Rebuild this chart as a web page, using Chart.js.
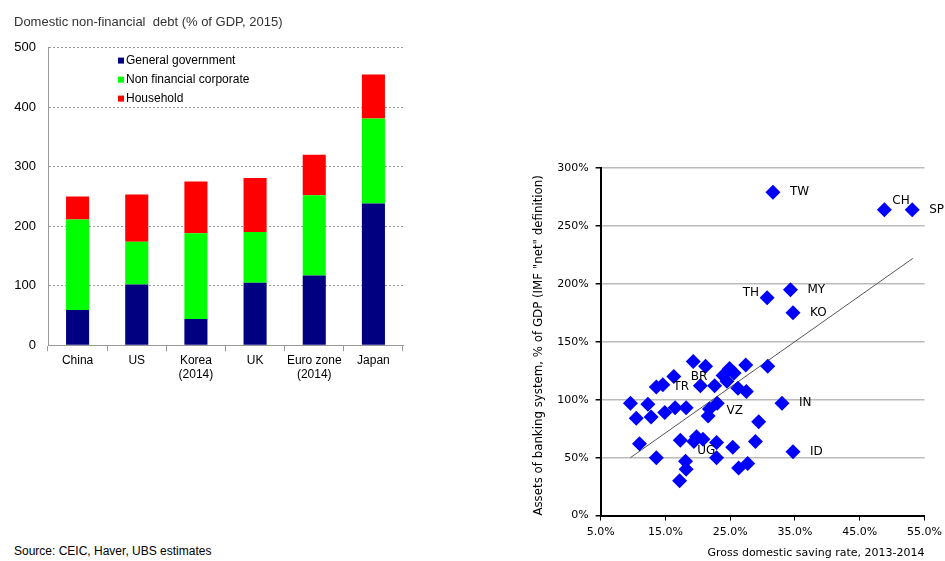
<!DOCTYPE html>
<html>
<head>
<meta charset="utf-8">
<script src="https://cdn.jsdelivr.net/npm/chart.js@4/dist/chart.umd.min.js"></script>
<style>
  body { margin: 0; background: #fff; width: 945px; height: 561px; position: relative; overflow: hidden; font-family: "Liberation Sans", Arial, sans-serif; }
  #leftBox { position: absolute; left: 0; top: 0; width: 420px; height: 392px; }
  #rightBox { position: absolute; left: 528px; top: 150px; width: 419px; height: 411px; }
  #source { position: absolute; left: 14px; top: 544px; font-size: 12px; color: #000; }
</style>
</head>
<body>
<div id="leftBox"><canvas id="debtChart"></canvas></div>
<div id="rightBox"><canvas id="bankChart"></canvas></div>
<div id="source">Source: CEIC, Haver, UBS estimates</div>
<script>
// left chart: domestic non-financial debt, % of GDP
const regions = ["China", "US", ["Korea", "(2014)"], "UK", ["Euro zone", "(2014)"], "Japan"];
const govDebt = [59, 102, 44, 105, 117, 238];
const corpDebt = [152, 72, 144, 85, 135, 143];
const householdDebt = [39, 79, 87, 91, 68, 74];
const debtTicks = [0, 100, 200, 300, 400, 500];

// right chart: saving rate vs banking assets
const savingRate = [31.6, 48.8, 53.1, 30.7, 34.3, 34.7, 19.3, 21.2, 27.4, 30.8, 24.9, 23.9, 25.6, 24.5,
  16.3, 13.6, 14.6, 20.4, 22.6, 26.2, 27.5, 9.6, 12.3, 33.0, 23.0, 10.5, 12.8, 14.9, 16.5, 18.2,
  21.8, 21.6, 29.4, 11.0, 17.3, 19.8, 20.8, 19.4, 22.9, 25.4, 28.9, 13.6, 22.9, 34.7, 18.1, 18.2,
  17.2, 26.3, 27.7];
const bankAssets = [279, 264, 264, 188, 195, 175, 133, 129, 130, 129, 127, 121, 123, 116,
  120, 111, 113, 112, 112, 110, 107, 97, 96, 97, 97, 84, 85, 89, 93, 93,
  92, 86, 81, 62, 65, 68, 66, 64, 63, 59, 64, 50, 50, 55, 47, 40,
  30, 41, 45];
const countryLabels = ["TW", "CH", "SP", "TH", "MY", "KO", "", "", "", "", "", "", "", "",
  "BR", "TR", "", "", "", "", "", "", "", "IN", "", "", "", "", "", "",
  "VZ", "", "", "", "UG", "", "", "", "", "", "", "", "", "ID", "", "",
  "", "", ""];
const trendX = [9.6, 53.2];
const trendY = [50, 222];

// legend drawn inside the plot, top left
const insideLegend = {
  id: 'insideLegend',
  afterDraw(chart) {
    const ctx = chart.ctx;
    const a = chart.chartArea;
    ctx.save();
    ctx.font = '12px "Liberation Sans", Arial, sans-serif';
    ctx.textBaseline = 'middle';
    chart.data.datasets.forEach((ds, i) => {
      let x = a.left + 70, y = a.top + 13 + i * 19;
      ctx.fillStyle = ds.backgroundColor;
      ctx.fillRect(x, y - 3, 6, 6);
      ctx.fillStyle = '#000';
      ctx.fillText(ds.label, x + 8, y);
    });
    ctx.restore();
  }
};

// country codes next to the diamonds
const pointLabels = {
  id: 'pointLabels',
  afterDatasetsDraw(chart) {
    const ctx = chart.ctx;
    const meta = chart.getDatasetMeta(0);
    ctx.save();
    ctx.font = '12px "DejaVu Sans", Verdana, sans-serif';
    ctx.fillStyle = '#000';
    ctx.textBaseline = 'middle';
    meta.data.forEach((pt, i) => {
      let txt = countryLabels[i];
      if (!txt) return;
      ctx.textAlign = 'left';
      let dx = 17, dy = 0;
      if (txt === 'TH') { ctx.textAlign = 'right'; dx = -8; dy = -5; }
      if (txt === 'CH') { dx = 8; dy = -9; }
      if (txt === 'UG') { dy = 11; }
      if (txt === 'VZ') { dy = 2; }
      ctx.fillText(txt, pt.x + dx, pt.y + dy);
    });
    ctx.restore();
  }
};

new Chart(document.getElementById('debtChart'), {
  type: 'bar',
  data: {
    labels: regions,
    datasets: [
      { label: 'General government', data: govDebt, backgroundColor: '#000080' },
      { label: 'Non financial corporate', data: corpDebt, backgroundColor: '#00ff00' },
      { label: 'Household', data: householdDebt, backgroundColor: '#ff0000' }
    ]
  },
  options: {
    responsive: true,
    maintainAspectRatio: false,
    animation: false,
    layout: { padding: { left: 14, right: 17, top: 6, bottom: 8 } },
    datasets: { bar: { barPercentage: 0.39, categoryPercentage: 1 } },
    plugins: {
      legend: { display: false },
      tooltip: { enabled: false },
      title: {
        display: true,
        text: 'Domestic non-financial  debt (% of GDP, 2015)',
        align: 'start',
        color: '#333',
        font: { family: '"Liberation Sans", Arial, sans-serif', size: 13, weight: 'normal' },
        padding: { top: 9, bottom: 17 }
      }
    },
    scales: {
      x: {
        stacked: true,
        grid: { offset: true, drawOnChartArea: false, tickLength: 6, color: '#999' },
        border: { color: '#999' },
        ticks: { color: '#000', maxRotation: 0, autoSkip: false, padding: 2,
          font: { family: '"Liberation Sans", Arial, sans-serif', size: 12 } }
      },
      y: {
        stacked: true,
        min: 0, max: 500,
        afterBuildTicks: s => { s.ticks = debtTicks.map(v => ({ value: v })); },
        afterFit: s => { s.width = 34; },
        grid: { color: '#999', drawTicks: false },
        border: { color: '#999', dash: [2, 2] },
        ticks: { color: '#000', padding: 12, font: { family: '"Liberation Sans", Arial, sans-serif', size: 13 } }
      }
    }
  },
  plugins: [insideLegend]
});

new Chart(document.getElementById('bankChart'), {
  type: 'scatter',
  data: {
    datasets: [
      {
        data: savingRate.map((x, i) => ({ x: x, y: bankAssets[i] })),
        pointStyle: 'rectRot',
        pointRadius: 7.5,
        backgroundColor: '#0000ff',
        borderWidth: 0
      },
      {
        type: 'line',
        data: trendX.map((x, i) => ({ x: x, y: trendY[i] })),
        borderColor: '#555',
        borderWidth: 1,
        pointRadius: 0
      }
    ]
  },
  options: {
    responsive: true,
    maintainAspectRatio: false,
    animation: false,
    layout: { padding: { left: 4, right: 0, top: 18, bottom: 1 } },
    plugins: { legend: { display: false }, tooltip: { enabled: false } },
    scales: {
      x: {
        type: 'linear',
        min: 5, max: 55,
        ticks: { stepSize: 10, color: '#000', padding: 5, callback: v => v.toFixed(1) + '%',
          font: { family: '"DejaVu Sans", Verdana, sans-serif', size: 11 } },
        grid: { drawOnChartArea: false, color: '#000', tickLength: 5 },
        border: { color: '#000', width: 2 },
        title: {
          display: true,
          text: 'Gross domestic saving rate, 2013-2014',
          align: 'end',
          color: '#000',
          font: { family: '"DejaVu Sans", Verdana, sans-serif', size: 11 },
          padding: { top: 3, bottom: 0 }
        }
      },
      y: {
        min: 0, max: 300,
        ticks: { stepSize: 50, color: '#000', padding: 7, callback: v => v + '%',
          font: { family: '"DejaVu Sans", Verdana, sans-serif', size: 11 } },
        grid: { color: '#bbb', lineWidth: 1.5, tickColor: '#000', tickLength: 5 },
        border: { color: '#000', width: 2 },
        title: {
          display: true,
          text: 'Assets of banking system, % of GDP (IMF "net" definition)',
          align: 'start',
          color: '#000',
          font: { family: '"DejaVu Sans", Verdana, sans-serif', size: 11.8 },
          padding: { top: 0, bottom: 4 }
        }
      }
    }
  },
  plugins: [pointLabels]
});
</script>
</body>
</html>
